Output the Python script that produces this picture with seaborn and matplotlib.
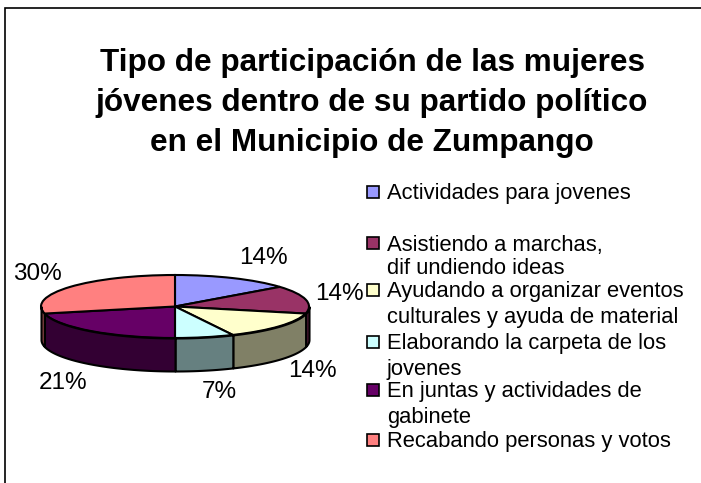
import numpy as np
import seaborn as sns
import matplotlib.pyplot as plt
from matplotlib.patches import Rectangle

W, H = 701, 483

title_lines = ["Tipo de participación de las mujeres",
               "jóvenes dentro de su partido político",
               "en el Municipio de Zumpango"]
categories = ["Actividades para jovenes",
              "Asistiendo a marchas,\ndif undiendo ideas",
              "Ayudando a organizar eventos\nculturales y ayuda de material",
              "Elaborando la carpeta de los\njovenes",
              "En juntas y actividades de\ngabinete",
              "Recabando personas y votos"]
values = [14.3, 14.3, 14.3, 7.1, 21.4, 28.6]
pct_labels = ["14%", "14%", "14%", "7%", "21%", "30%"]
top_colors = ["#9999FF", "#993366", "#FFFFCC", "#CCFFFF", "#660066", "#FF8080"]
side_colors = ["#4D4D80", "#4D1933", "#808066", "#668080", "#330033", "#804040"]

# where the percent labels and legend rows sit, in pixels
pct_xy = [(263, 258), (339, 294), (312, 371), (219, 392), (63, 383), (37, 274)]
title_y = [63, 103, 143]
legend_y = [192, 243, 290, 342, 390, 440]
line_y = [[194], [245, 269], [292, 318], [344, 369], [392, 417], [442]]

sns.set_theme(style="white")
plt.rcParams["font.family"] = ["Liberation Sans", "DejaVu Sans"]
palette = sns.color_palette(top_colors)

fig = plt.figure(figsize=(W / 100, H / 100), dpi=100, facecolor="white")


def fx(x):
    return x / W


def fy(y):
    return 1 - y / H


# frame around the chart area
fig.add_artist(Rectangle((fx(5), fy(H + 5)), 1, fy(8) - fy(H + 5), transform=fig.transFigure,
                         fill=False, edgecolor="black", lw=1.2))

# pie area: unit circle squashed into an ellipse, depth below it
depth = 33 / 31.5
ax = fig.add_axes([fx(41), fy(371), (309 - 41) / W, (371 - 275) / H])
wedges, _ = ax.pie(values, colors=palette, startangle=90, counterclock=False,
                   wedgeprops={"edgecolor": "black", "linewidth": 1.5})
ax.set_aspect("auto")
ax.set_xlim(-1, 1)
ax.set_ylim(-1 - depth, 1)
ax.axis("off")

# sides of the front half, slice by slice
edges = np.cumsum([0] + values) / sum(values) * 360
for i in range(len(values)):
    a0, a1 = max(edges[i], 90), min(edges[i + 1], 270)
    if a1 <= a0:
        continue
    t = np.radians(np.linspace(a0, a1, 80))
    ax.fill_between(np.sin(t), np.cos(t), np.cos(t) - depth, color=side_colors[i],
                    edgecolor="black", linewidth=1.5, clip_on=False)

for line, y in zip(title_lines, title_y):
    fig.text(fx(372), fy(y), line, ha="center", va="center", fontsize=22.7, fontweight="bold", color="black")

for (x, y), lab in zip(pct_xy, pct_labels):
    fig.text(fx(x), fy(y), lab, ha="center", va="center", fontsize=17.5, color="black")

# legend
for i, cat in enumerate(categories):
    fig.add_artist(Rectangle((fx(367), fy(legend_y[i] + 6)), 12 / W, 12 / H, transform=fig.transFigure,
                             facecolor=palette[i], edgecolor="black", lw=1.2, zorder=5))
    for txt, y in zip(cat.split("\n"), line_y[i]):
        fig.text(fx(387), fy(y), txt, ha="left", va="center", fontsize=15.8, color="black")

fig.savefig("out.png", dpi=100)
